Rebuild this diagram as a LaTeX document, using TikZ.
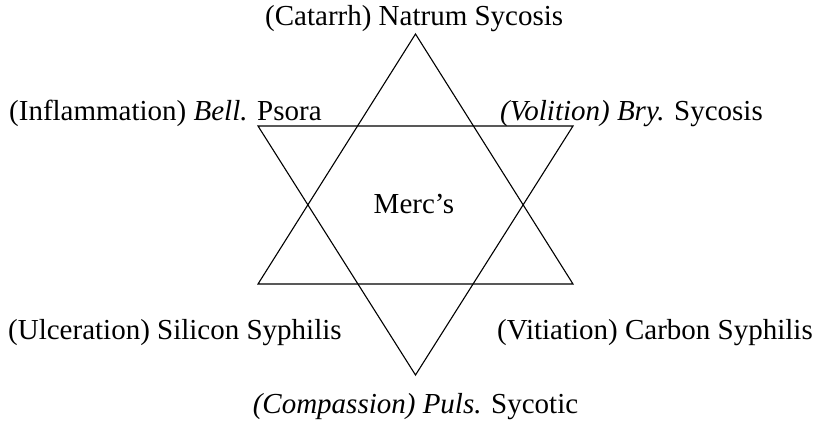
\documentclass[tikz,border=0pt]{standalone}
\usepackage{fontspec}
\setmainfont{Liberation Serif}
\begin{document}
\begin{tikzpicture}[x=1pt,y=-1pt,
  lbl/.style={inner sep=0pt, font=\fontsize{29}{34}\selectfont},
  edge/.style={line width=1.1pt, line join=miter}]
\useasboundingbox (0,0) rectangle (820,421);
% vertices
\coordinate (A) at (415.5,34);
\coordinate (B) at (258,284);
\coordinate (C) at (573,284);
\coordinate (D) at (258,126);
\coordinate (E) at (573,126);
\coordinate (F) at (415.5,375);
\draw[edge] (A) -- (B) -- (C) -- cycle;
\draw[edge] (D) -- (E) -- (F) -- cycle;
% labels
\node[lbl, anchor=base west] (top) at (265,25) {(Catarrh) Natrum Sycosis};
\node[lbl, anchor=base west] (ul) at (9,120) {(Inflammation) \textit{Bell.} Psora};
\node[lbl, anchor=base west] (ur) at (500,120) {\textit{(Volition) Bry.} Sycosis};
\node[lbl, anchor=base west] (ll) at (8,339) {(Ulceration) Silicon Syphilis};
\node[lbl, anchor=base west] (lr) at (497,339) {(Vitiation) Carbon Syphilis};
\node[lbl, anchor=base] (bot) at (415.5,413) {\textit{(Compassion) Puls.} Sycotic};
\node[lbl, anchor=base] (mid) at (414,213) {Merc’s};
\end{tikzpicture}
\end{document}
